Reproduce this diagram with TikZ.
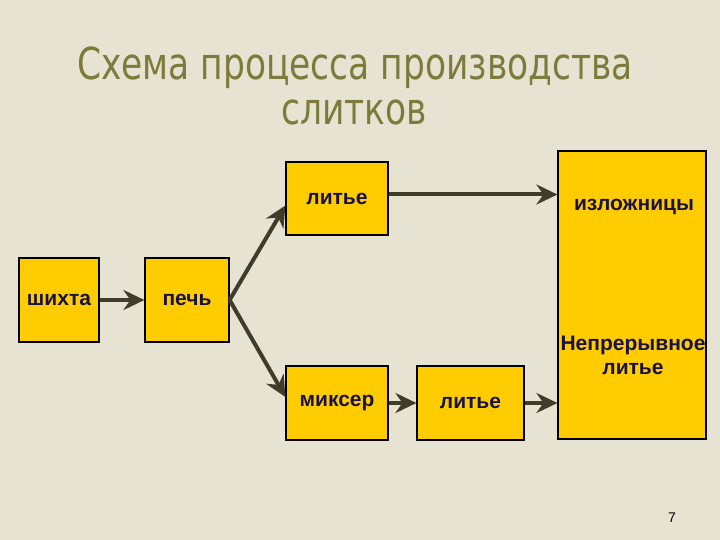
\documentclass[tikz,border=0pt]{standalone}
\usepackage{graphicx}
\usepackage{fontspec}
\setmainfont{Liberation Sans}
\newfontfamily\titlefont{DejaVu Sans Condensed}
\usetikzlibrary{arrows.meta}
\definecolor{bgbeige}{HTML}{E6E3D2}
\definecolor{boxgold}{HTML}{FFCC00}
\definecolor{labelnavy}{HTML}{1A1245}
\definecolor{arrowbrown}{HTML}{403C2A}
\definecolor{titleolive}{HTML}{7D7B3C}
\newcommand{\narrow}[1]{\scalebox{0.87}[1]{#1}}

\begin{document}
\begin{tikzpicture}[x=1pt, y=-1pt,
    box/.style={draw=black, line width=1.2pt, fill=boxgold, inner sep=0pt, align=center,
                font=\fontsize{21}{23}\selectfont\bfseries, text=labelnavy},
    lbl/.style={align=center, font=\fontsize{21}{24}\selectfont\bfseries, text=labelnavy},
    title/.style={font=\titlefont\fontsize{44}{45}\selectfont, text=titleolive, anchor=base},
    arr/.style={-{Stealth[length=21pt, width=20pt, inset=7pt]}, line width=4pt, draw=arrowbrown}
]
% Slide background
\fill[bgbeige] (0,0) rectangle (720,540);

% Title
\node[title] (title1) at (355,80) {\narrow{Схема процесса производства}};
\node[title] (title2) at (354,125) {\narrow{слитков}};

% Left row
\node[box, minimum width=80pt, minimum height=84pt] (charge) at (59,300) {шихта};
\node[box, minimum width=84pt, minimum height=84pt] (furnace) at (187,300) {печь};

% Upper and lower branches
\node[box, minimum width=102pt, minimum height=73pt] (cast1) at (337,198.5) {литье};
\node[box, minimum width=102pt, minimum height=74pt] (mixer) at (337,403) {миксер};
\node[box, minimum width=107pt, minimum height=74pt] (cast2) at (470.5,403) {литье};

% Tall box on the right
\node[box, minimum width=148pt, minimum height=288pt] (plant) at (632,295) {};
\node[lbl] (moulds) at (634,207) {изложницы};
\node[lbl] (contin) at (633,355) {Непрерывное\\литье};

% Arrows
\draw[arr] (charge) -- (furnace);
\draw[arr] (furnace.east) -- ([yshift=-7pt]cast1.west);
\draw[arr] (furnace.east) -- ([yshift=6pt]mixer.west);
\draw[arr] ([yshift=4pt]cast1.east) -- ([yshift=4pt]cast1.east -| plant.west);
\draw[arr] (mixer) -- (cast2);
\draw[arr] (cast2.east) -- (cast2.east -| plant.west);

% Slide number
\node[font=\fontsize{14}{16}\selectfont] (page) at (672,518) {7};
\end{tikzpicture}
\end{document}
